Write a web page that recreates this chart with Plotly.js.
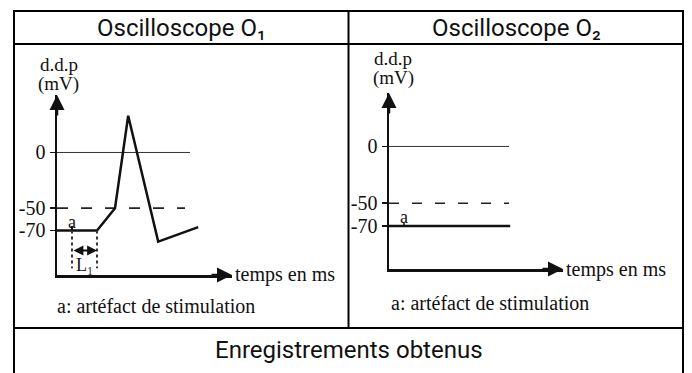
<!DOCTYPE html>
<html>
<head>
<meta charset="utf-8">
<script src="https://cdn.plot.ly/plotly-3.0.1.min.js"></script>
<style>
  html, body { margin: 0; padding: 0; background: #fff; }
  #chart { width: 692px; height: 373px; }
</style>
</head>
<body>
<div id="chart"></div>
<script>
// Membrane potential recordings (schematic), time in ms, d.d.p in mV
const timeO1 = [0, 10, 14.5, 17.8, 25.3, 35.3];
const ddpO1  = [-70, -70, -50, 33, -80, -67];

const timeO2 = [0, 30.3];
const ddpO2  = [-70, -70];

// reference levels: zero line and threshold
const zeroEndO1 = 33.25, thresholdEndO1 = 32;
const zeroEndO2 = 30, thresholdEndO2 = 30;
const zeroLevel = 0;
const thresholdLevel = -50;

// stimulation artefact and latency L1
const stimTime = 3.75;
const latencyEnd = 10;
const latencyLow = -104;
const latencyArrowLevel = -88;

const tickVals = [0, -50, -70];
const tickText = ['0', '-50', '-70'];

const headers = ['Oscilloscope O\u2081', 'Oscilloscope O\u2082'];
const footer = 'Enregistrements obtenus';
const yLabel = ['d.d.p', '(mV)'];
const xLabel = 'temps en ms';
const caption = 'a: artéfact de stimulation';

const W = 692, H = 373;
const px = v => v / W;
const py = v => 1 - v / H;

const serif = 'Liberation Serif, Times New Roman, serif';
const ink = '#111';
const textInk = '#111';

function line(xa, ya, xs, ys, opts) {
  return Object.assign({
    type: 'scatter', mode: 'lines', x: xs, y: ys, xaxis: xa, yaxis: ya,
    hoverinfo: 'skip', showlegend: false,
    line: { color: ink, width: 2.5 }
  }, opts || {});
}

const traces = [
  // O1
  line('x', 'y', [0, zeroEndO1], [zeroLevel, zeroLevel], { line: { color: '#333', width: 1 } }),
  line('x', 'y', [0, thresholdEndO1], [thresholdLevel, thresholdLevel], { line: { color: '#222', width: 1.6, dash: '11px,13px' } }),
  line('x', 'y', timeO1, ddpO1),
  line('x', 'y', [stimTime, stimTime], [ddpO1[0], ddpO1[0] + 4], { line: { color: ink, width: 2 } }),
  line('x', 'y', [stimTime, stimTime], [ddpO1[0], latencyLow], { line: { color: '#333', width: 2, dash: 'dot' } }),
  line('x', 'y', [latencyEnd, latencyEnd], [ddpO1[1], latencyLow], { line: { color: '#333', width: 2, dash: 'dot' } }),
  // O2
  line('x2', 'y2', [0, zeroEndO2], [zeroLevel, zeroLevel], { line: { color: '#333', width: 1 } }),
  line('x2', 'y2', [0, thresholdEndO2], [thresholdLevel, thresholdLevel], { line: { color: '#222', width: 1.6, dash: '10px,13px' } }),
  line('x2', 'y2', timeO2, ddpO2),
  line('x2', 'y2', [stimTime, stimTime], [ddpO2[0], ddpO2[0] + 3], { line: { color: ink, width: 1.5 } })
];

function xAxis(domain, range, anchor) {
  return {
    domain: domain, range: range, anchor: anchor,
    showline: true, linecolor: ink, linewidth: 2.5,
    showgrid: false, zeroline: false, showticklabels: false, ticks: '',
    fixedrange: true
  };
}
function yAxis(domain, range, anchor) {
  return {
    domain: domain, range: range, anchor: anchor,
    showline: true, linecolor: ink, linewidth: 2.5,
    showgrid: false, zeroline: false,
    tickmode: 'array', tickvals: tickVals, ticktext: tickText,
    ticks: 'outside', ticklen: 5, tickwidth: 1.5, tickcolor: ink,
    tickfont: { family: serif, size: 20, color: textInk },
    fixedrange: true
  };
}

const annotations = [];
function txt(x, y, text, o) {
  annotations.push(Object.assign({
    xref: 'paper', yref: 'paper', x: x, y: y, text: text, showarrow: false,
    xanchor: 'center', yanchor: 'middle',
    font: { family: serif, size: 20, color: textInk }
  }, o || {}));
}
function arrowTip(xr, yr, x, y, ax, ay) {
  annotations.push({
    xref: xr, yref: yr, x: x, y: y, ax: ax, ay: ay, text: '',
    showarrow: true, arrowhead: 2, arrowsize: 1.2, arrowwidth: 2.5, arrowcolor: ink
  });
}

// axis arrowheads
arrowTip('x domain', 'y domain', 0, 1, 0, 22);
arrowTip('x domain', 'y domain', 1, 0, -22, 0);
arrowTip('x2 domain', 'y2 domain', 0, 1, 0, 22);
arrowTip('x2 domain', 'y2 domain', 1, 0, -22, 0);

// latency L1 double arrow
annotations.push({
  xref: 'x', yref: 'y', axref: 'x', ayref: 'y',
  x: latencyEnd, y: latencyArrowLevel, ax: stimTime, ay: latencyArrowLevel,
  text: '', showarrow: true, arrowside: 'end+start', arrowhead: 2,
  arrowsize: 0.9, arrowwidth: 2.2, arrowcolor: ink, standoff: 0, startstandoff: 0
});
annotations.push({
  xref: 'x', yref: 'y', x: (stimTime + latencyEnd) / 2, y: -101,
  text: 'L\u2081', showarrow: false,
  font: { family: serif, size: 18, color: textInk }
});
// artefact labels
annotations.push({ xref: 'x', yref: 'y', x: stimTime, y: -62.5, text: 'a', showarrow: false,
  font: { family: serif, size: 18, color: textInk } });
annotations.push({ xref: 'x2', yref: 'y2', x: stimTime, y: -62, text: 'a', showarrow: false,
  font: { family: serif, size: 18, color: textInk } });

// axis titles
const labFont = { family: serif, size: 19, color: textInk };
txt(px(58.5), py(64), yLabel[0], { font: labFont });
txt(px(58.5), py(84), yLabel[1], { font: labFont });
txt(px(393), py(58), yLabel[0], { font: labFont });
txt(px(393), py(78), yLabel[1], { font: labFont });
txt(px(233), py(274), xLabel, { xanchor: 'left' });
txt(px(564), py(269), xLabel, { xanchor: 'left' });
// captions
txt(px(55), py(306), caption, { xanchor: 'left' });
txt(px(389), py(303), caption, { xanchor: 'left' });

// table headings
const sans = 'Roboto, Inter, sans-serif';
const headFont = { family: sans, size: 24, color: '#111' };
txt(px((14 + 349) / 2), py(28), headers[0], { font: headFont });
txt(px((349 + 683) / 2), py(28), headers[1], { font: headFont });
txt(px((14 + 683) / 2), py(350), footer, { font: headFont });

// table rules
const rule = { color: '#000', width: 2 };
const shapes = [
  { type: 'line', xref: 'paper', yref: 'paper', x0: px(14), x1: px(683), y0: py(11), y1: py(11), line: rule },
  { type: 'line', xref: 'paper', yref: 'paper', x0: px(14), x1: px(683), y0: py(44), y1: py(44), line: rule },
  { type: 'line', xref: 'paper', yref: 'paper', x0: px(14), x1: px(683), y0: py(328), y1: py(328), line: rule },
  { type: 'line', xref: 'paper', yref: 'paper', x0: px(14), x1: px(14), y0: py(10), y1: py(380), line: rule },
  { type: 'line', xref: 'paper', yref: 'paper', x0: px(683), x1: px(683), y0: py(10), y1: py(380), line: rule },
  { type: 'line', xref: 'paper', yref: 'paper', x0: px(348.5), x1: px(348.5), y0: py(10), y1: py(328), line: rule }
];

const layout = {
  width: W, height: H,
  margin: { l: 0, r: 0, t: 0, b: 0 },
  paper_bgcolor: '#fff', plot_bgcolor: 'rgba(0,0,0,0)',
  showlegend: false,
  font: { family: serif, color: textInk },
  xaxis: xAxis([px(57), px(232)], [0, 43.75], 'y'),
  yaxis: yAxis([py(275), py(95)], [-110, 51.6], 'x'),
  xaxis2: xAxis([px(389), px(563)], [0, 43.5], 'y2'),
  yaxis2: yAxis([py(269), py(93)], [-108, 47.1], 'x2'),
  annotations: annotations,
  shapes: shapes
};

Plotly.newPlot('chart', traces, layout, { displayModeBar: false, staticPlot: true });
</script>
</body>
</html>
